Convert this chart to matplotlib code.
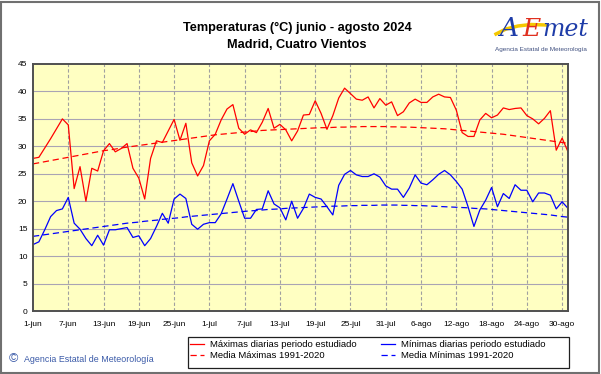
import numpy as np
import matplotlib
matplotlib.use('Agg')
import matplotlib.pyplot as plt
from matplotlib.patches import Rectangle
from matplotlib.lines import Line2D

# daily values 1-jun .. 31-ago 2024
tmax = [27.8, 28.0, 29.7, 31.4, 33.2, 35.0, 33.9, 22.3, 26.3, 20.0,
        26.0, 25.5, 29.2, 30.5, 29.0, 29.6, 30.5, 26.0, 24.2, 20.4,
        27.8, 31.0, 30.7, 32.8, 34.9, 31.1, 34.2, 27.0, 24.6, 26.5,
        31.0, 32.2, 34.8, 36.8, 37.6, 33.3, 32.2, 33.0, 32.5, 34.4,
        36.9, 33.3, 34.0, 33.0, 31.0, 32.8, 35.7, 35.8, 38.3, 36.0,
        33.1, 35.6, 38.8, 40.6, 39.6, 38.6, 38.4, 39.0, 37.0, 38.7,
        37.5, 38.1, 35.6, 36.3, 37.9, 38.6, 38.0, 38.0, 39.0, 39.5,
        39.0, 38.9, 36.6, 32.5, 31.8, 31.8, 34.8, 36.0, 35.2, 35.7,
        37.0, 36.7, 36.9, 37.0, 35.6, 35.0, 34.1, 35.1, 36.5, 29.3,
        31.5, 29.0]

tmin = [12.1, 12.6, 14.8, 17.2, 18.3, 18.6, 20.7, 16.0, 14.9, 13.2,
        11.9, 13.8, 12.0, 14.8, 14.8, 15.0, 15.2, 13.4, 13.7, 11.9,
        13.2, 15.4, 17.8, 16.0, 20.4, 21.3, 20.5, 15.8, 14.9, 15.8,
        16.1, 16.1, 17.7, 20.4, 23.2, 20.0, 16.9, 16.9, 18.5, 18.6,
        21.9, 19.5, 18.8, 16.6, 20.0, 16.9, 18.7, 21.3, 20.7, 20.4,
        19.0, 17.5, 22.9, 24.9, 25.6, 24.8, 24.5, 24.5, 25.0, 24.4,
        22.8, 22.2, 22.2, 20.7, 22.4, 24.8, 23.3, 23.0, 23.9, 24.9,
        25.6, 24.8, 23.6, 22.2, 19.0, 15.4, 18.4, 20.2, 22.5, 19.0,
        21.4, 20.5, 23.0, 22.0, 22.0, 19.9, 21.5, 21.5, 21.1, 18.6,
        19.9, 18.7]

# normals 1991-2020
media_max = [26.8, 27.0, 27.2, 27.4, 27.6, 27.8, 28.0, 28.2, 28.4, 28.6,
             28.8, 29.0, 29.2, 29.35, 29.5, 29.7, 29.85, 30.0, 30.15, 30.3,
             30.45, 30.6, 30.75, 30.9, 31.05, 31.2, 31.35, 31.5, 31.65, 31.8,
             31.95, 32.1, 32.2, 32.3, 32.4, 32.5, 32.6, 32.7, 32.8, 32.9,
             32.95, 33.0, 33.05, 33.1, 33.15, 33.2, 33.25, 33.3, 33.35, 33.4,
             33.4, 33.45, 33.5, 33.5, 33.55, 33.55, 33.6, 33.6, 33.6, 33.6,
             33.6, 33.55, 33.55, 33.5, 33.5, 33.45, 33.4, 33.35, 33.3, 33.25,
             33.2, 33.1, 33.0, 32.9, 32.8, 32.7, 32.6, 32.5, 32.4, 32.3,
             32.2, 32.05, 31.9, 31.75, 31.6, 31.45, 31.3, 31.15, 31.0, 30.85,
             30.7, 30.55]

media_min = [13.6, 13.75, 13.9, 14.05, 14.2, 14.35, 14.5, 14.65, 14.8, 14.95,
             15.1, 15.25, 15.4, 15.55, 15.7, 15.85, 16.0, 16.1, 16.2, 16.35,
             16.45, 16.55, 16.7, 16.8, 16.9, 17.0, 17.15, 17.25, 17.35, 17.45,
             17.55, 17.65, 17.75, 17.85, 17.95, 18.05, 18.15, 18.25, 18.3, 18.4,
             18.5, 18.55, 18.6, 18.7, 18.75, 18.8, 18.85, 18.9, 18.95, 19.0,
             19.05, 19.1, 19.1, 19.15, 19.2, 19.2, 19.25, 19.25, 19.25, 19.3,
             19.3, 19.3, 19.3, 19.25, 19.25, 19.2, 19.2, 19.15, 19.1, 19.05,
             19.0, 18.95, 18.9, 18.85, 18.8, 18.7, 18.65, 18.6, 18.5, 18.4,
             18.3, 18.2, 18.1, 18.0, 17.9, 17.8, 17.7, 17.6, 17.5, 17.35,
             17.2, 17.1]

xlabels = ['1-jun', '7-jun', '13-jun', '19-jun', '25-jun', '1-jul', '7-jul',
           '13-jul', '19-jul', '25-jul', '31-jul', '6-ago', '12-ago',
           '18-ago', '24-ago', '30-ago']

plt.rcParams['font.family'] = ['Liberation Sans', 'DejaVu Sans']

W, H = 601, 374
fig = plt.figure(figsize=(W / 100, H / 100), dpi=100)
fig.patch.set_facecolor('white')

def fx(x):
    return x / W

def fy(y):
    return 1 - y / H

# outer frame
fig.add_artist(Rectangle((fx(1), fy(373)), fx(598), 371 / H, transform=fig.transFigure,
                         fill=False, edgecolor='#707070', lw=1.5))

ax = fig.add_axes([fx(33), fy(311), fx(535), 247 / H])
ax.set_facecolor('#FFFFC2')

x = np.arange(len(tmax))
ax.plot(x, tmax, color='#FF0000', lw=0.9)
ax.plot(x, tmin, color='#0000FF', lw=0.9)
ax.plot(x, media_max, color='#FF0000', lw=0.9, linestyle=(0, (5, 3)))
ax.plot(x, media_min, color='#0000FF', lw=0.9, linestyle=(0, (5, 3)))

ax.set_xlim(0, 91)
ax.set_ylim(0, 45)
ax.set_yticks(np.arange(0, 46, 5))
ax.set_xticks(np.arange(0, 91, 6))
ax.set_xticklabels(xlabels)
ax.tick_params(length=0, labelsize=6, pad=7, colors='black')
ax.tick_params(axis='y', pad=4)

for yv in np.arange(5, 45, 5):
    ax.axhline(yv, color='#A9A4B4', lw=0.8, zorder=0)
for xv in np.arange(6, 91, 6):
    ax.axvline(xv, color='#A0A0A0', lw=0.8, linestyle=(0, (3, 2)), zorder=0)

for s in ax.spines.values():
    s.set_color('#505050')
    s.set_linewidth(1.4)

fig.text(fx(297), fy(28), 'Temperaturas (°C) junio - agosto 2024', ha='center', va='center',
         fontsize=9.2, fontweight='bold')
fig.text(fx(297), fy(45), 'Madrid, Cuatro Vientos', ha='center', va='center',
         fontsize=9.2, fontweight='bold')

# logo
sx = np.array([496, 506, 518, 531, 546])
sy = np.array([34, 29, 26, 24.5, 25])
fig.add_artist(Line2D(fx(sx), fy(sy), color='#F5C800', lw=2.5, transform=fig.transFigure))
fig.text(fx(499), fy(36), 'A', color='#1E3CA8', fontsize=19, fontstyle='italic',
         family='DejaVu Serif', ha='left', va='baseline')
fig.text(fx(522), fy(36), 'E', color='#E03020', fontsize=18, fontstyle='italic',
         family='DejaVu Serif', ha='left', va='baseline')
fig.text(fx(542), fy(36), 'met', color='#1E3CA8', fontsize=17, fontstyle='italic',
         family='DejaVu Serif', ha='left', va='baseline')
fig.text(fx(541), fy(49), 'Agencia Estatal de Meteorología', color='#405080',
         fontsize=4.6, ha='center', va='center')

# copyright
fig.text(fx(9), fy(359), '©', color='#3A5AA8', fontsize=9, ha='left', va='center')
fig.text(fx(24), fy(359), 'Agencia Estatal de Meteorología', color='#3A5AA8',
         fontsize=6.4, ha='left', va='center')

# legend
fig.add_artist(Rectangle((fx(188), fy(368)), fx(381), 31 / H, transform=fig.transFigure,
                         fill=False, edgecolor='#202020', lw=0.9))
handles = [
    Line2D([], [], color='#FF0000', lw=0.9),
    Line2D([], [], color='#FF0000', lw=0.9, linestyle=(0, (5, 3))),
    Line2D([], [], color='#0000FF', lw=0.9),
    Line2D([], [], color='#0000FF', lw=0.9, linestyle=(0, (5, 3))),
]
labels = ['Máximas diarias periodo estudiado', 'Media Máximas 1991-2020',
          'Mínimas diarias periodo estudiado', 'Media Mínimas 1991-2020']
fig.legend(handles, labels, loc='upper left', bbox_to_anchor=(fx(188), fy(338)),
           ncol=2, frameon=False, fontsize=6.8, handlelength=1.5, handletextpad=0.6,
           columnspacing=2.6, labelspacing=0.25, borderpad=0.2, borderaxespad=0)

fig.savefig('out.png', dpi=100)
